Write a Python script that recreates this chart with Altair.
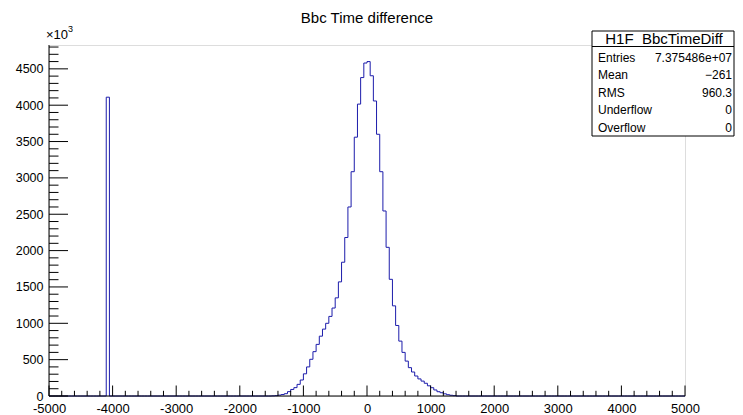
import altair as alt
import pandas as pd

# ---- data (values in units of 10^3 counts) ----
bin_width = 50
core_left_edges = list(range(-1500, 1400, 50))
core_counts = [2, 5, 12, 20, 32, 60, 90, 115, 160, 220,
               305, 400, 505, 610, 710, 823, 920, 1000, 1095, 1210,
               1350, 1570, 1840, 2180, 2600, 3085, 3560, 4015, 4380, 4580,
               4600, 4405, 4058, 3600, 3085, 2545, 2045, 1605, 1240, 970,
               755, 600, 480, 390, 330, 275, 235, 205, 175, 140,
               114, 83, 59, 45, 30, 18, 10, 5]
spike_left_edges = [-4100]
spike_counts = [4110]

x_tick_labels = [-5000, -4000, -3000, -2000, -1000, 0, 1000, 2000, 3000, 4000, 5000]
y_tick_labels = [0, 500, 1000, 1500, 2000, 2500, 3000, 3500, 4000, 4500]
x_minor_ticks = [v for v in range(-5000, 5001, 200) if v % 1000 != 0]
y_minor_ticks = [v for v in range(0, 4801, 100) if v % 500 != 0]

stat_names = ["Entries", "Mean", "RMS", "Underflow", "Overflow"]
stat_values = ["7.375486e+07", "\u2212261", "960.3", "0", "0"]
hist_name = "H1F_BbcTimeDiff"
title_text = "Bbc Time difference"

# ---- build histogram outline table ----
counts = dict(zip(core_left_edges, core_counts))
counts.update(dict(zip(spike_left_edges, spike_counts)))
edges = list(range(-5000, 5000, bin_width))
hist = pd.DataFrame({"x": edges + [5000], "y": [counts.get(e, 0) for e in edges] + [0]})

W, H = 636, 351
FONT = "Liberation Sans"
xs = alt.Scale(domain=[-5000, 5000], nice=False, zero=False)
ys = alt.Scale(domain=[0, 4828], nice=False, zero=False)

ax_x = alt.Axis(values=x_tick_labels, ticks=False, tickSize=0, domain=False, grid=False,
                labelPadding=6, labelFontSize=13, labelFont=FONT, labelColor="#000",
                labelExpr="datum.value + ''", labelOverlap=False, labelBound=False,
                labelFlush=False, title=None)
ax_y = alt.Axis(values=y_tick_labels, ticks=False, tickSize=0, domain=False, grid=False,
                labelPadding=6, labelFontSize=12.5, labelFont=FONT, labelColor="#000",
                labelExpr="datum.value + ''", labelOverlap=False, labelBound=False,
                labelFlush=False, title=None)

line = alt.Chart(hist).mark_line(interpolate="step-after", color="#1c1cab", strokeWidth=1).encode(
    x=alt.X("x:Q", scale=xs, axis=ax_x, title=None),
    y=alt.Y("y:Q", scale=ys, axis=ax_y, title=None),
)

one = pd.DataFrame({"a": [0]})
axis_lines = [
    alt.Chart(one).mark_rule(color="#000", strokeWidth=1).encode(
        x=alt.value(0), x2=alt.value(W), y=alt.value(H)),
    alt.Chart(one).mark_rule(color="#000", strokeWidth=1).encode(
        x=alt.value(0), y=alt.value(0), y2=alt.value(H)),
]

xmaj = alt.Chart(pd.DataFrame({"v": x_tick_labels})).mark_rule(color="#000").encode(
    x=alt.X("v:Q", scale=xs, axis=ax_x, title=None), y=alt.value(H), y2=alt.value(H - 10.5))
xmin = alt.Chart(pd.DataFrame({"v": x_minor_ticks})).mark_rule(color="#000").encode(
    x=alt.X("v:Q", scale=xs, axis=ax_x, title=None), y=alt.value(H), y2=alt.value(H - 5.2))
ymaj = alt.Chart(pd.DataFrame({"v": y_tick_labels})).mark_rule(color="#000").encode(
    y=alt.Y("v:Q", scale=ys, axis=ax_y, title=None), x=alt.value(0), x2=alt.value(19))
ymin = alt.Chart(pd.DataFrame({"v": y_minor_ticks})).mark_rule(color="#000").encode(
    y=alt.Y("v:Q", scale=ys, axis=ax_y, title=None), x=alt.value(0), x2=alt.value(9.5))

def txt(t, x, y, size, align="left", baseline="middle"):
    return alt.Chart(pd.DataFrame({"t": [t]})).mark_text(
        font=FONT, fontSize=size, align=align, baseline=baseline, color="#000").encode(
        text="t:N", x=alt.value(x), y=alt.value(y))

title = txt(title_text, W / 2, -27, 15, align="center")
exp1 = txt("\u00d710", -3, -6, 13, baseline="alphabetic")
exp2 = txt("3", 19, -13, 9, baseline="alphabetic")

# stats box (page x 592..734 ; plot origin at page 49,45)
bx0, bx1, by0, by1 = 543, 685, -14, 91
box = alt.Chart(one).mark_rect(fill="#fff", stroke="#000", strokeWidth=1).encode(
    x=alt.value(bx0), x2=alt.value(bx1), y=alt.value(by0), y2=alt.value(by1))
sep = alt.Chart(one).mark_rule(color="#000", strokeWidth=1).encode(
    x=alt.value(bx0), x2=alt.value(bx1), y=alt.value(1.5))
header = txt(hist_name, (bx0 + bx1) / 2 + 1, -6.5, 15, align="center")
stat_layers = []
for i, (n, v) in enumerate(zip(stat_names, stat_values)):
    yy = 12.5 + 17.6 * i
    stat_layers.append(txt(n, bx0 + 6, yy, 12))
    stat_layers.append(txt(v, bx1 - 2, yy, 12, align="right"))

chart = alt.layer(
    line, *axis_lines, xmaj, xmin, ymaj, ymin, title, exp1, exp2, box, sep, header, *stat_layers
).properties(
    width=W, height=H,
    autosize=alt.AutoSizeParams(type="none"),
    padding={"left": 41, "top": 37, "right": 50, "bottom": 19},
).configure_view(stroke="#000", strokeWidth=1).configure(background="#fff")

chart.save("out.html", embed_options={"renderer": "svg", "actions": False})
